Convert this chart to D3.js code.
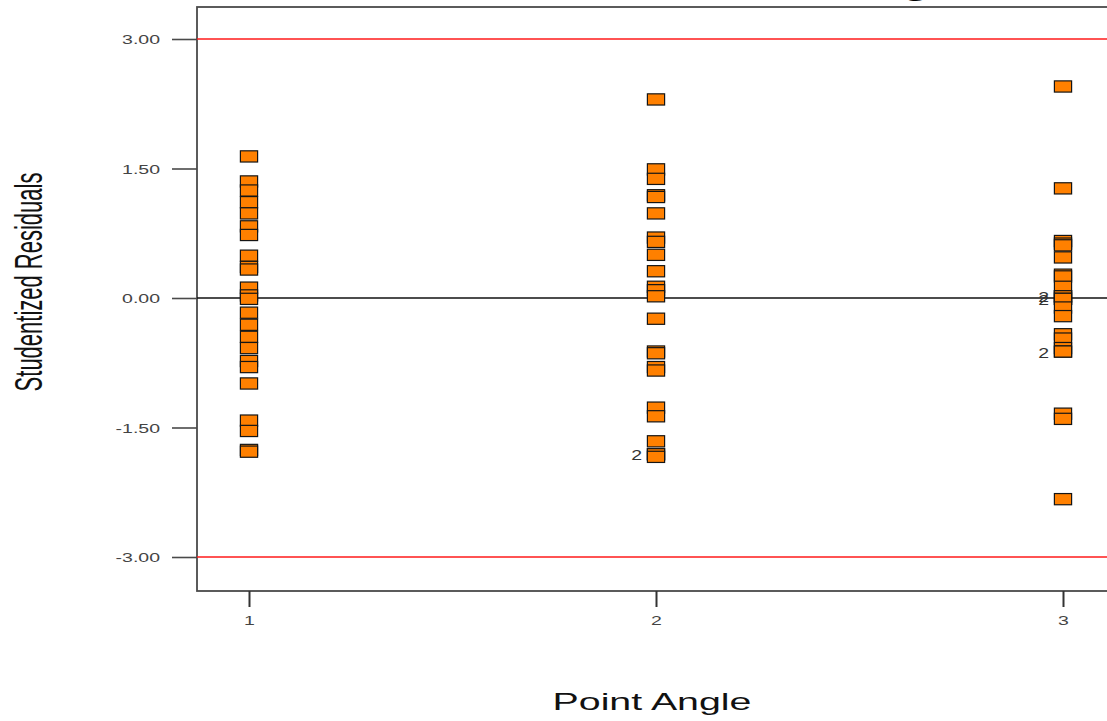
<!DOCTYPE html>
<html>
<head>
<meta charset="utf-8">
<script src="https://cdn.jsdelivr.net/npm/d3@7/dist/d3.min.js"></script>
<style>
  html, body { margin: 0; padding: 0; background: #fff; }
  svg { display: block; font-family: "Liberation Sans", Arial, sans-serif; }
</style>
</head>
<body>
<svg id="chart" width="1107" height="721"></svg>
<script>
// Studentized residuals grouped by point angle level
const angleLevels = [1, 2, 3];
const residualsAngle1 = [1.64, 1.35, 1.245, 1.11, 0.98, 0.83, 0.73, 0.49, 0.36, 0.33, 0.12, 0.03, -0.01,
  -0.17, -0.31, -0.45, -0.58, -0.73, -0.80, -0.99, -1.42, -1.54, -1.76, -1.78];
const residualsAngle2 = [2.30, 1.49, 1.38, 1.19, 1.17, 0.98, 0.70, 0.65, 0.50, 0.31, 0.13, 0.09, 0.02,
  -0.24, -0.62, -0.64, -0.80, -0.84, -1.27, -1.37, -1.66, -1.81, -1.81, -1.84];
const residualsAngle3 = [2.45, 1.27, 0.66, 0.63, 0.61, 0.47, 0.27, 0.25, 0.13, 0.02, 0.02, -0.01, -0.01,
  -0.11, -0.21, -0.42, -0.47, -0.58, -0.62, -0.62, -1.34, -1.40, -2.33];
const yTicks = [-3, -1.5, 0, 1.5, 3];
const limitLines = [3, -3];

const svg = d3.select("#chart");
const frame = { left: 197, top: 7, bottom: 591, right: 1200 };

const x = d3.scaleLinear().domain([1, 3]).range([249, 1063]);
const y = d3.scaleLinear().domain([-3, 3]).range([557, 39]);

const fmt = d3.formatLocale({ decimal: ".", thousands: ",", grouping: [3], currency: ["$", ""], minus: "-" }).format(".2f");

// Plot frame
svg.append("rect")
  .attr("x", frame.left).attr("y", frame.top)
  .attr("width", frame.right - frame.left).attr("height", frame.bottom - frame.top)
  .attr("fill", "none").attr("stroke", "#4a4a4a").attr("stroke-width", 1.8);

// Y axis
const yAxis = svg.append("g")
  .attr("transform", `translate(${frame.left},0)`)
  .call(d3.axisLeft(y).tickValues(yTicks).tickSize(25).tickPadding(12).tickFormat(fmt));
yAxis.select(".domain").remove();
yAxis.selectAll(".tick line").attr("stroke", "#4a4a4a").attr("stroke-width", 1.6);
yAxis.selectAll(".tick text")
  .attr("x", 0).attr("dy", "0.35em")
  .attr("transform", "translate(-37,0) scale(1.5,1)")
  .attr("fill", "#444").style("font-size", "13px");

// X axis
const xAxis = svg.append("g")
  .attr("transform", `translate(0,${frame.bottom})`)
  .call(d3.axisBottom(x).tickValues(angleLevels).tickSize(16).tickPadding(8).tickFormat(d3.format("d")));
xAxis.select(".domain").remove();
xAxis.selectAll(".tick line").attr("stroke", "#333").attr("stroke-width", 2);
xAxis.selectAll(".tick text")
  .attr("y", 0).attr("dy", 0)
  .attr("transform", "translate(0,34) scale(1.5,1)")
  .attr("fill", "#444").style("font-size", "13px");

// Reference lines: +/-3 limits and zero
svg.selectAll("line.limit").data(limitLines).join("line")
  .attr("class", "limit")
  .attr("x1", frame.left).attr("x2", 1107)
  .attr("y1", d => y(d)).attr("y2", d => y(d))
  .attr("stroke", "#ff1a1a").attr("stroke-width", 1.6);
svg.append("line")
  .attr("x1", frame.left).attr("x2", 1107)
  .attr("y1", y(0)).attr("y2", y(0))
  .attr("stroke", "#111").attr("stroke-width", 1.6);

// Points
const groups = [residualsAngle1, residualsAngle2, residualsAngle3];
const points = [];
groups.forEach((vals, i) => {
  vals.slice().sort((a, b) => b - a).forEach(v => points.push({ level: angleLevels[i], value: v }));
});

svg.append("g").selectAll("rect").data(points).join("rect")
  .attr("x", d => x(d.level) - 8.6)
  .attr("y", d => y(d.value) - 5.6)
  .attr("width", 17.2).attr("height", 11.2)
  .attr("fill", "#ff8000")
  .attr("stroke", "#151515").attr("stroke-width", 1.2);

// Count labels where several runs share the same residual
const counts = [];
groups.forEach((vals, i) => {
  d3.rollups(vals, v => v.length, v => v).forEach(([value, n]) => {
    if (n > 1) counts.push({ level: angleLevels[i], value, n });
  });
});
svg.append("g").selectAll("text").data(counts).join("text")
  .attr("transform", d => `translate(${x(d.level) - 14},${y(d.value) + 6}) scale(1.3,1)`)
  .attr("text-anchor", "end")
  .attr("fill", "#333")
  .style("font-size", "15px")
  .text(d => d.n);

// Axis titles
svg.append("text")
  .attr("transform", "translate(652,709.5) scale(1.71,1)")
  .attr("text-anchor", "middle")
  .attr("fill", "#111").style("font-size", "23px")
  .text("Point Angle");

svg.append("text")
  .attr("transform", "translate(42,282) scale(1.8,1) rotate(-90)")
  .attr("text-anchor", "middle")
  .attr("fill", "#111").style("font-size", "22px")
  .text("Studentized Residuals");

// Chart title (sits above the visible area; only the descender shows)
svg.append("text")
  .attr("transform", "translate(968,-5) scale(1.7,1)")
  .attr("text-anchor", "end")
  .attr("fill", "#000").style("font-size", "29px")
  .text("Residuals vs. Point Angle");
</script>
</body>
</html>
